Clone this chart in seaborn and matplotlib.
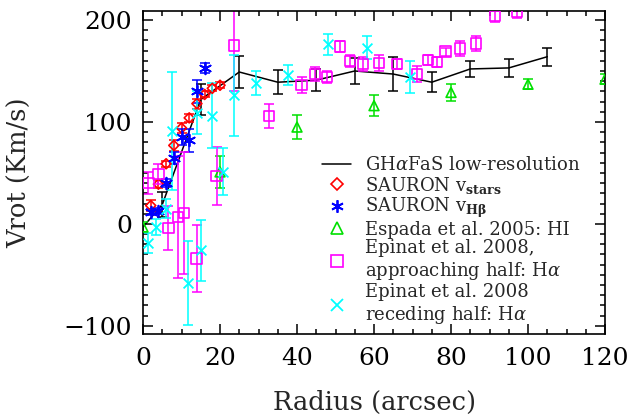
import numpy as np
import pandas as pd
import matplotlib
matplotlib.use('Agg')
import matplotlib.pyplot as plt
from matplotlib.lines import Line2D
from matplotlib.ticker import MultipleLocator
import seaborn as sns

# GHaFaS low-resolution curve
ghafas_r = [0, 5, 15, 25, 35, 45, 55, 65, 75, 85, 95, 105]
ghafas_v = [-3, 19, 122, 149, 139, 141, 150, 147, 139, 152, 153, 164]
ghafas_err = [np.nan, 12, 15, 16, 12, 11, 13, 17, 10, 8, 9, 9]

# SAURON stars
stars_r = [2, 4, 6, 8, 10, 12, 14, 16, 18, 20]
stars_v = [18, 39, 59, 77, 94, 104, 118, 127, 133, 136]
stars_err = [5, 4, 3, 5, 5, 4, 5, 3, 3, 3]

# SAURON Hbeta
hb_r = [2, 4, 6, 8, 10, 12, 14, 16]
hb_v = [12, 13, 40, 65, 85, 82, 130, 153]
hb_err = [3, 3, 4, 6, 8, 11, 11, 5]

# Espada et al. 2005 HI
hi_r = [0, 20, 40, 60, 80, 100, 120]
hi_v = [-3, 51, 95, 116, 129, 137, 142]
hi_err = [5, 16, 12, 10, 8, 5, 5]

# Epinat et al. 2008 approaching half
app_r = [1.4, 4, 6.6, 9, 10.7, 13.9, 19.1, 23.7, 32.8, 41.2, 44.7, 47.7, 51.2,
         53.8, 57.2, 61.3, 65.9, 71.1, 74.1, 76.3, 78.6, 82.3, 86.5, 91.4, 97.2]
app_v = [40, 49, -4, 7, 11, -34, 47, 175, 106, 136, 147, 144, 174,
         160, 157, 158, 157, 147, 161, 159, 169, 172, 177, 204, 208]
app_err = [11, 10, 22, 60, 60, 33, 28, 45, 12, 8, 7, 6, 5,
           6, 7, 8, 5, 8, 5, 5, 4, 7, 7, 6, 6]

# Epinat et al. 2008 receding half
rec_r = [1.4, 3.5, 6, 7.6, 11.8, 13.9, 15.1, 17.8, 20.7, 23.6, 29.4, 37.7,
         48.1, 58.1, 69.4]
rec_v = [-19, -3, 15, 91, -58, 109, -26, 106, 51, 126, 138, 146,
         176, 173, 144]
rec_err = [10, 8, 9, 58, 41, 21, 30, 32, 23, 40, 12, 10, 10, 11, 16]

series = [
    ('stars', stars_r, stars_v, stars_err, 'red', 'D', 26),
    ('hb', hb_r, hb_v, hb_err, 'blue', (6, 2, 0), 70),
    ('hi', hi_r, hi_v, hi_err, '#00e000', '^', 50),
    ('app', app_r, app_v, app_err, 'magenta', 's', 55),
    ('rec', rec_r, rec_v, rec_err, 'cyan', 'x', 50),
]

sns.set_style('ticks')
plt.rcParams['font.family'] = ['DejaVu Serif']
plt.rcParams['mathtext.fontset'] = 'dejavuserif'

fig = plt.figure(figsize=(6.32, 4.17), dpi=100)
ax = fig.add_axes([0.2263, 0.199, 0.7310, 0.775])

# curva negra GHaFaS
df_g = pd.DataFrame({'r': ghafas_r, 'v': ghafas_v})
sns.lineplot(data=df_g, x='r', y='v', sort=False, estimator=None,
             color='black', linewidth=1.1, ax=ax)
ax.errorbar(ghafas_r, ghafas_v, yerr=ghafas_err, fmt='none', ecolor='black',
            elinewidth=1.1, capsize=3.5, capthick=1.1)

for nombre, r, v, e, col, mk, s in series:
    ax.errorbar(r, v, yerr=e, fmt='none', ecolor=col, elinewidth=1.1,
                capsize=3.5, capthick=1.1, zorder=2)
    df = pd.DataFrame({'r': r, 'v': v})
    if mk in ('x', (6, 2, 0)):
        sns.scatterplot(data=df, x='r', y='v', marker=mk, s=s, color=col,
                        linewidth=1.3, ax=ax, zorder=3)
    else:
        sns.scatterplot(data=df, x='r', y='v', marker=mk, s=s,
                        facecolors='none', edgecolor=col, linewidth=1.2,
                        ax=ax, zorder=3)

ax.set_xlim(0, 120)
ax.set_ylim(-108, 209)
ax.xaxis.set_major_locator(MultipleLocator(20))
ax.xaxis.set_minor_locator(MultipleLocator(5))
ax.yaxis.set_major_locator(MultipleLocator(100))
ax.yaxis.set_minor_locator(MultipleLocator(10))
ax.tick_params(which='both', direction='in', top=True, right=True,
               width=1.1, labelsize=18, colors='black')
ax.tick_params(which='major', length=7)
ax.tick_params(which='minor', length=3.5)
ax.tick_params(axis='x', pad=9)
ax.tick_params(axis='y', pad=8)
for sp in ax.spines.values():
    sp.set_linewidth(1.2)
    sp.set_color('black')

ax.set_xlabel('Radius (arcsec)', fontsize=18.5)
ax.set_ylabel('Vrot (Km/s)', fontsize=18.5)
ax.xaxis.set_label_coords(0.5, -0.172)
ax.yaxis.set_label_coords(-0.24, 0.5)

handles = [
    Line2D([], [], color='black', linewidth=1.1),
    Line2D([], [], color='red', marker='D', ls='', mfc='none', ms=6, mew=1.2),
    Line2D([], [], color='blue', marker=(6, 2, 0), ls='', ms=9, mew=1.3),
    Line2D([], [], color='#00e000', marker='^', ls='', mfc='none', ms=8, mew=1.2),
    Line2D([], [], color='magenta', marker='s', ls='', mfc='none', ms=8, mew=1.2),
    Line2D([], [], color='cyan', marker='x', ls='', ms=8, mew=1.3),
]
labels = [
    r'GH$\alpha$FaS low-resolution',
    r'SAURON v$_{\mathbf{stars}}$',
    r'SAURON v$_{\mathbf{H\beta}}$',
    'Espada et al. 2005: HI',
    'Epinat et al. 2008,\napproaching half: H$\\alpha$',
    'Epinat et al. 2008\nreceding half: H$\\alpha$',
]
ax.legend(handles, labels, loc='upper left', bbox_to_anchor=(0.372, 0.572),
          frameon=False, fontsize=13, handlelength=1.6, handletextpad=0.8,
          labelspacing=0.02, borderaxespad=0)

fig.savefig('out.png', dpi=100)
